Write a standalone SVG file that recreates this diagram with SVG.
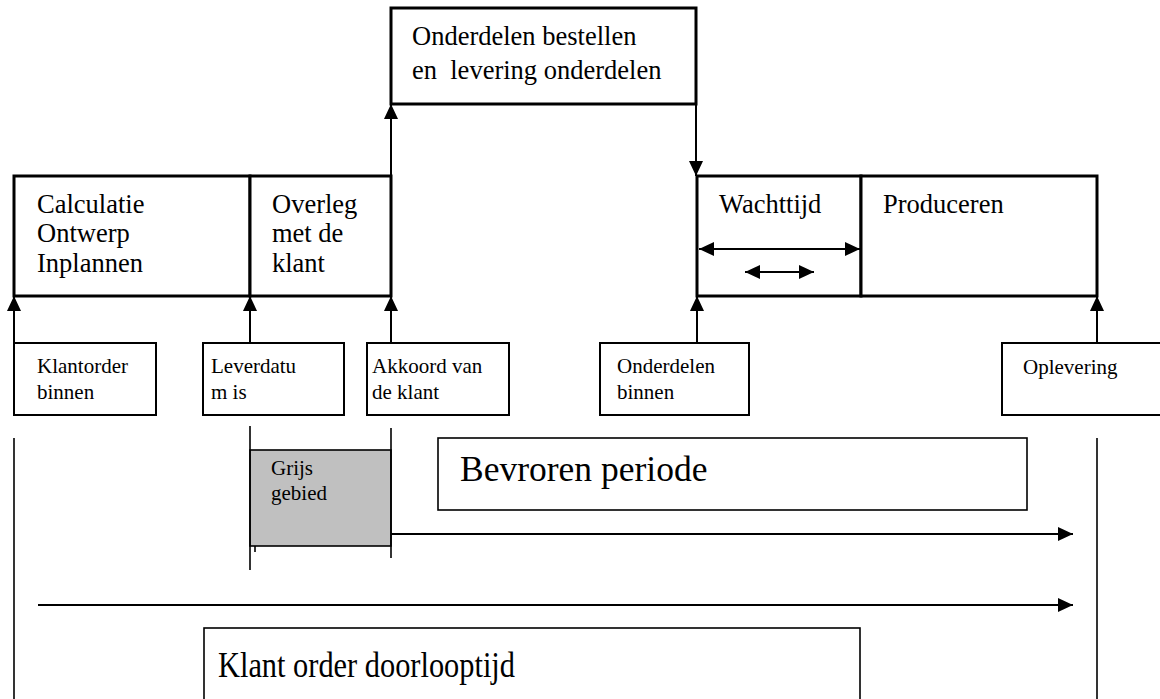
<svg xmlns="http://www.w3.org/2000/svg" width="1160" height="699" viewBox="0 0 1160 699">
<style>
text{font-family:"Liberation Serif","Times New Roman",serif;fill:#000}
.big{font-size:26.5px}
.sm{font-size:21px}
.bx{fill:#fff;stroke:#000;stroke-width:3}
.sb{fill:#fff;stroke:#000;stroke-width:2}
.tb{fill:#fff;stroke:#000;stroke-width:1.6}
.ln{stroke:#000;stroke-width:2;fill:none}
.thin{stroke:#000;stroke-width:1.6;fill:none}
</style>
<defs>
<marker id="ah" viewBox="0 0 15 14" refX="15" refY="7" markerWidth="15" markerHeight="14" markerUnits="userSpaceOnUse" orient="auto-start-reverse">
<path d="M0,0 L15,7 L0,14 Z" fill="#000"/>
</marker>
</defs>
<g id="n-top">
<rect class="bx" x="391" y="8" width="305" height="96"/>
<text class="big" x="412" y="45">Onderdelen bestellen</text>
<text class="big" x="412" y="79" xml:space="preserve">en  levering onderdelen</text>
</g>
<g id="n-calc">
<rect class="bx" x="14" y="176" width="236" height="120"/>
<text class="big" x="37" y="213">Calculatie</text>
<text class="big" x="37" y="242">Ontwerp</text>
<text class="big" x="37" y="272">Inplannen</text>
</g>
<g id="n-overleg">
<rect class="bx" x="250" y="176" width="141" height="120"/>
<text class="big" x="272" y="213">Overleg</text>
<text class="big" x="272" y="242">met de</text>
<text class="big" x="272" y="272">klant</text>
</g>
<g id="n-wacht">
<rect class="bx" x="697" y="176" width="164" height="120"/>
<text class="big" x="719" y="213">Wachttijd</text>
</g>
<g id="n-prod">
<rect class="bx" x="861" y="176" width="236" height="120"/>
<text class="big" x="883" y="213">Produceren</text>
</g>
<g id="n-klantorder">
<rect class="sb" x="14" y="343" width="142" height="72"/>
<text class="sm" x="37" y="373">Klantorder</text>
<text class="sm" x="37" y="399">binnen</text>
</g>
<g id="n-leverdatum">
<rect class="sb" x="203" y="343" width="141" height="72"/>
<text class="sm" x="211" y="373">Leverdatu</text>
<text class="sm" x="211" y="399">m is</text>
</g>
<g id="n-akkoord">
<rect class="sb" x="367" y="343" width="142" height="72"/>
<text class="sm" x="372" y="373">Akkoord van</text>
<text class="sm" x="372" y="399">de klant</text>
</g>
<g id="n-onderdelen">
<rect class="sb" x="600" y="343" width="149" height="72"/>
<text class="sm" x="617" y="373">Onderdelen</text>
<text class="sm" x="617" y="399">binnen</text>
</g>
<g id="n-oplevering">
<rect class="sb" x="1002" y="343" width="170" height="72"/>
<text class="sm" x="1023" y="374">Oplevering</text>
</g>
<g id="n-grijs">
<rect x="250" y="450" width="141" height="96" fill="#c0c0c0" stroke="#000" stroke-width="1.6"/>
<text class="sm" x="271" y="475">Grijs</text>
<text class="sm" x="271" y="500">gebied</text>
</g>
<g id="n-bevroren">
<rect class="tb" x="438" y="438" width="589" height="72"/>
<text x="460" y="481" font-size="35.5">Bevroren periode</text>
</g>
<g id="n-doorloop">
<rect class="tb" x="204" y="628" width="656" height="80"/>
<text x="218" y="677" font-size="36" textLength="297" lengthAdjust="spacingAndGlyphs">Klant order doorlooptijd</text>
</g>
<g id="connectors">
<line class="ln" x1="391" y1="176" x2="391" y2="104" marker-end="url(#ah)"/>
<line class="ln" x1="696" y1="104" x2="696" y2="176" marker-end="url(#ah)"/>
<line class="ln" x1="14" y1="343" x2="14" y2="296" marker-end="url(#ah)"/>
<line class="ln" x1="250" y1="343" x2="250" y2="296" marker-end="url(#ah)"/>
<line class="ln" x1="391" y1="343" x2="391" y2="296" marker-end="url(#ah)"/>
<line class="ln" x1="697" y1="343" x2="697" y2="296" marker-end="url(#ah)"/>
<line class="ln" x1="1097" y1="343" x2="1097" y2="296" marker-end="url(#ah)"/>
<line class="ln" x1="699" y1="249" x2="860" y2="249" marker-start="url(#ah)" marker-end="url(#ah)"/>
<line class="ln" x1="745" y1="272" x2="814" y2="272" marker-start="url(#ah)" marker-end="url(#ah)"/>
<line class="thin" x1="14" y1="438" x2="14" y2="699"/>
<line class="thin" x1="250" y1="426" x2="250" y2="570"/>
<line class="thin" x1="391" y1="428" x2="391" y2="558"/>
<line class="thin" x1="1097" y1="438" x2="1097" y2="699"/>
<line class="thin" x1="255" y1="546" x2="255" y2="552"/>
<line class="ln" x1="391" y1="534" x2="1073" y2="534" marker-end="url(#ah)"/>
<line class="ln" x1="38" y1="605" x2="1073" y2="605" marker-end="url(#ah)"/>
</g>
</svg>
